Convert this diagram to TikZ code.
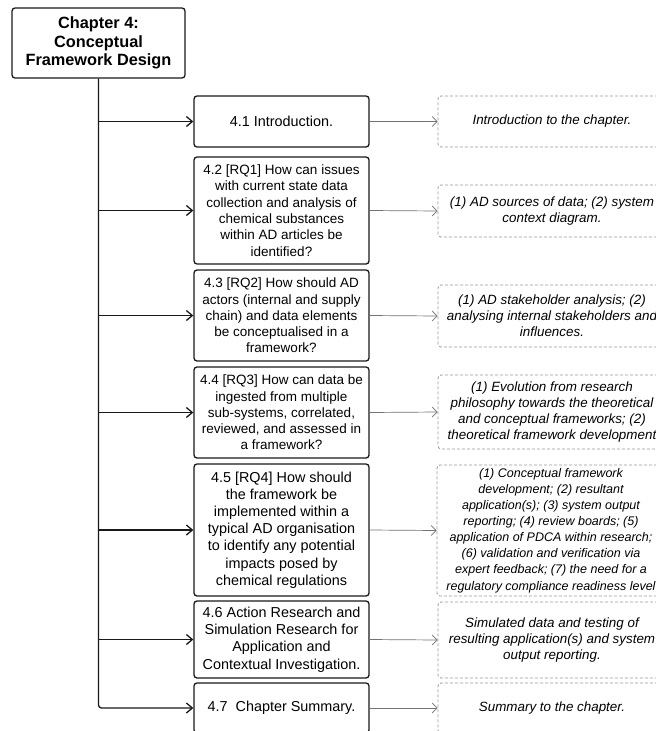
\documentclass[tikz,border=0pt]{standalone}
\usepackage{fontspec}
\setmainfont{Liberation Sans}
\usetikzlibrary{arrows.meta}
\begin{document}
\begin{tikzpicture}[x=1pt,y=-1pt,
  chapbox/.style={draw=black!90, line width=1.3pt, rounded corners=3pt, fill=white,
    align=center, inner sep=0pt, font=\fontsize{16.3}{18.3}\bfseries\selectfont},
  secbox/.style={draw=black!90, line width=1.3pt, rounded corners=3pt, fill=white,
    align=center, inner sep=0pt, minimum width=175pt},
  bigtxt/.style={font=\fontsize{14.4}{17.2}\selectfont},
  smalltxt/.style={font=\fontsize{13.5}{16.3}\selectfont},
  notebox/.style={draw=black!40, line width=0.8pt, dash pattern=on 3pt off 2pt,
    rounded corners=3pt, align=center, inner sep=0pt, minimum width=228pt,
    font=\fontsize{13.4}{16.1}\itshape\selectfont},
  densenote/.style={font=\fontsize{12.5}{16.1}\itshape\selectfont},
  branch/.style={draw=black!90, line width=1.3pt, -{Straight Barb[length=6pt,width=10pt]}},
  link/.style={draw=black!55, line width=0.7pt, -{Straight Barb[length=5pt,width=10pt]}}]

\useasboundingbox (0,0) rectangle (656,731);
\fill[white] (0,0) rectangle (656,731);
\clip (0,0) rectangle (656,731);

% chapter heading
\node[chapbox, minimum width=173pt, minimum height=70pt] (chap) at (98.5,43)
  {Chapter 4:\\Conceptual\\Framework Design};

% section boxes
\node[secbox, bigtxt, minimum height=51pt] (b1) at (281.5,121.5) {4.1 Introduction.};
\node[secbox, smalltxt, minimum height=107pt] (b2) at (281.5,210.5)
  {4.2 [RQ1] How can issues\\with current state data\\collection and analysis of\\chemical substances\\within AD articles be\\identified?};
\node[secbox, smalltxt, minimum height=91pt] (b3) at (281.5,315.5)
  {4.3 [RQ2] How should AD\\actors (internal and supply\\chain) and data elements\\be conceptualised in a\\framework?};
\node[secbox, smalltxt, minimum height=91pt] (b4) at (281.5,412.5)
  {4.4 [RQ3] How can data be\\ingested from multiple\\sub-systems, correlated,\\reviewed, and assessed in\\a framework?};
\node[secbox, bigtxt, minimum height=132pt] (b5) at (281.5,530)
  {4.5 [RQ4] How should\\the framework be\\implemented within a\\typical AD organisation\\to identify any potential\\impacts posed by\\chemical regulations};
\node[secbox, bigtxt, minimum height=77pt] (b6) at (281.5,639.5)
  {4.6 Action Research and\\Simulation Research for\\Application and\\Contextual Investigation.};
\node[secbox, bigtxt, minimum height=50pt] (b7) at (281.5,708) {4.7\ \ Chapter Summary.};

% outcome notes
\node[notebox, minimum height=51pt] (d1) at (552,121.5) {Introduction to the chapter.};
\node[notebox, minimum height=52pt] (d2) at (552,211)
  {(1) AD sources of data; (2) system\\context diagram.};
\node[notebox, minimum height=62pt] (d3) at (552,316)
  {(1) AD stakeholder analysis; (2)\\analysing internal stakeholders and\\influences.};
\node[notebox, minimum height=74pt] (d4) at (552,412)
  {(1) Evolution from research\\philosophy towards the theoretical\\and conceptual frameworks; (2)\\theoretical framework development};
\node[notebox, densenote, minimum height=131pt] (d5) at (551,530.5)
  {(1) Conceptual framework\\development; (2) resultant\\application(s); (3) system output\\reporting; (4) review boards; (5)\\application of PDCA within research;\\(6) validation and verification via\\expert feedback; (7) the need for a\\regulatory compliance readiness level};
\node[notebox, minimum height=76pt] (d6) at (552,640)
  {Simulated data and testing of\\resulting application(s) and system\\output reporting.};
\node[notebox, minimum height=50pt] (d7) at (552,708) {Summary to the chapter.};

% spine and branches
\draw[branch, rounded corners=3pt] (chap.south) |- (b7.west);
\foreach \b in {b1,b2,b3,b4,b5,b6}
  \draw[branch] (chap.south |- \b.west) -- (\b.west);

% links to notes
\foreach \i in {1,...,7}
  \draw[link] (b\i.east) -- (d\i.west);
\end{tikzpicture}
\end{document}
